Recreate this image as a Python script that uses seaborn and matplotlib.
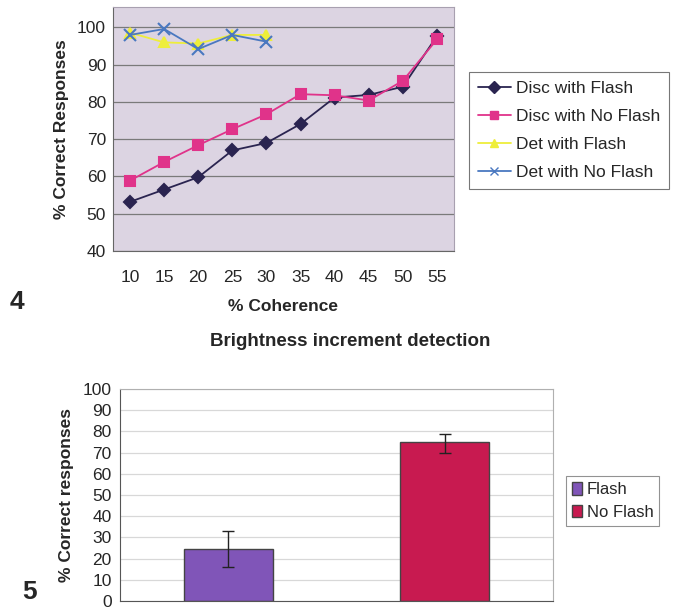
import matplotlib
matplotlib.use("Agg")
import matplotlib.pyplot as plt
import numpy as np
import pandas as pd
import seaborn as sns
from matplotlib.patches import Patch
from matplotlib.ticker import FixedLocator

# 図4: 運動方向弁別・検出の正答率
coherence = [10, 15, 20, 25, 30, 35, 40, 45, 50, 55]
disc_flash = [53.2, 56.5, 59.8, 67.0, 69.0, 74.1, 81.2, 81.9, 84.1, 97.7]
disc_no_flash = [58.9, 63.9, 68.4, 72.7, 76.7, 82.1, 81.8, 80.4, 85.7, 96.8]
det_coherence = [10, 15, 20, 25, 30]
det_flash = [98.6, 96.0, 95.7, 98.0, 98.0]
det_no_flash = [98.0, 99.6, 94.2, 98.0, 96.2]

# 図5: 輝度増加検出
bar_conditions = ["Flash", "No Flash"]
bar_means = [24.5, 75.0]
bar_err_low = [16.0, 70.0]
bar_err_high = [33.0, 79.0]

sns.set_style("white")
plt.rcParams["font.family"] = ["Liberation Sans", "DejaVu Sans"]

fig = plt.figure(figsize=(6.74, 6.11), dpi=100)

# ---- 上段: 折れ線 ----
ax1 = fig.add_axes([113 / 674, 1 - 251 / 611, 341 / 674, 244 / 611])
ax1.set_facecolor("#dcd4e2")

series = [
    ("Disc with Flash", coherence, disc_flash, "#2a2450", "D", 6),
    ("Disc with No Flash", coherence, disc_no_flash, "#e0338a", "s", 6.5),
    ("Det with Flash", det_coherence, det_flash, "#eeee3a", "^", 7),
    ("Det with No Flash", det_coherence, det_no_flash, "#4a78c0", "x", 8),
]
for name, xs, ys, color, marker, ms in series:
    df = pd.DataFrame({"x": xs, "y": ys})
    sns.lineplot(data=df, x="x", y="y", color=color, marker=marker,
                 markersize=ms, linewidth=1.3, markeredgecolor=color,
                 markeredgewidth=1.5, ax=ax1, label=name, legend=False)

ax1.set_xlim(7.5, 57.5)
ax1.set_ylim(40, 105.5)
ax1.set_xticks(coherence)
ax1.xaxis.set_minor_locator(FixedLocator(np.arange(7.5, 58, 5)))
ax1.set_yticks(range(40, 101, 10))
ax1.tick_params(axis="x", which="major", length=0, labelsize=12.5, pad=14)
ax1.tick_params(axis="x", which="minor", length=5, color="#555555", direction="out")
ax1.tick_params(axis="y", length=0, labelsize=12.5, pad=5)
ax1.yaxis.grid(True, color="#7a7a7a", linewidth=0.9)
ax1.set_axisbelow(True)
for side in ["top", "right"]:
    ax1.spines[side].set_color("#a8a0b0")
for side in ["left", "bottom"]:
    ax1.spines[side].set_color("#666666")
ax1.set_xlabel("% Coherence", fontsize=12.5, fontweight="bold", labelpad=10)
ax1.set_ylabel("% Correct Responses", fontsize=12.5, fontweight="bold", labelpad=6)

handles1 = [
    plt.Line2D([], [], color=c, marker=m, markersize=6, linewidth=1.3,
               markeredgecolor=c, label=n)
    for n, _, _, c, m, _ in series
]
leg1 = fig.legend(
    handles=handles1, loc="upper left", bbox_to_anchor=(469 / 674, 1 - 72 / 611),
    fontsize=12.5, frameon=True, fancybox=False, edgecolor="#555555",
    handlelength=1.9, handletextpad=0.3, labelspacing=0.75, borderpad=0.5,
    borderaxespad=0.0,
)
leg1.get_frame().set_linewidth(0.8)

fig.text(10 / 674, 1 - 302 / 611, "4", fontsize=19, fontweight="bold", va="center")

# ---- 下段: 棒グラフ ----
fig.text(350 / 674, 1 - 342 / 611, "Brightness increment detection",
         fontsize=13.5, fontweight="bold", ha="center", va="center")

ax2 = fig.add_axes([120 / 674, 1 - 601 / 611, 433 / 674, 212 / 611])
df_bar = pd.DataFrame({"condition": bar_conditions, "value": bar_means})
bar_colors = {"Flash": "#8055b8", "No Flash": "#c81a50"}
sns.barplot(
    data=df_bar, x="condition", y="value", hue="condition",
    palette=bar_colors, saturation=1, width=0.41, edgecolor="#444444",
    linewidth=1.0, ax=ax2, legend=False, dodge=False,
)
yerr = np.array([
    [m - lo for m, lo in zip(bar_means, bar_err_low)],
    [hi - m for m, hi in zip(bar_means, bar_err_high)],
])
ax2.errorbar(range(len(bar_conditions)), bar_means, yerr=yerr, fmt="none",
             ecolor="#222222", elinewidth=1.0, capsize=4, capthick=1.0)

ax2.set_xlim(-0.5, 1.5)
ax2.set_ylim(0, 100)
ax2.set_yticks(range(0, 101, 10))
ax2.set_xticks([0.5])
ax2.set_xticklabels([""])
ax2.tick_params(axis="x", length=5, color="#555555", direction="out")
ax2.tick_params(axis="y", length=4, color="#555555", direction="out", labelsize=12.5, pad=2)
ax2.yaxis.grid(True, color="#d8d8d8", linewidth=0.9)
ax2.set_axisbelow(True)
ax2.set_xlabel("")
ax2.set_ylabel("% Correct responses", fontsize=12.5, fontweight="bold", labelpad=6)
for side in ["top", "right"]:
    ax2.spines[side].set_color("#b0b0b0")
for side in ["left", "bottom"]:
    ax2.spines[side].set_color("#555555")

handles2 = [Patch(facecolor=bar_colors[c], edgecolor="#444444", label=c) for c in bar_conditions]
leg2 = fig.legend(
    handles=handles2, loc="upper left", bbox_to_anchor=(566 / 674, 1 - 476 / 611),
    fontsize=12, frameon=True, fancybox=False, edgecolor="#777777",
    handlelength=0.6, handleheight=0.8, handletextpad=0.3, labelspacing=0.45,
    borderpad=0.35, borderaxespad=0.0,
)
leg2.get_frame().set_linewidth(0.8)

fig.text(22 / 674, 1 - 592 / 611, "5", fontsize=19, fontweight="bold", va="center")

fig.savefig("out.png", dpi=100)
